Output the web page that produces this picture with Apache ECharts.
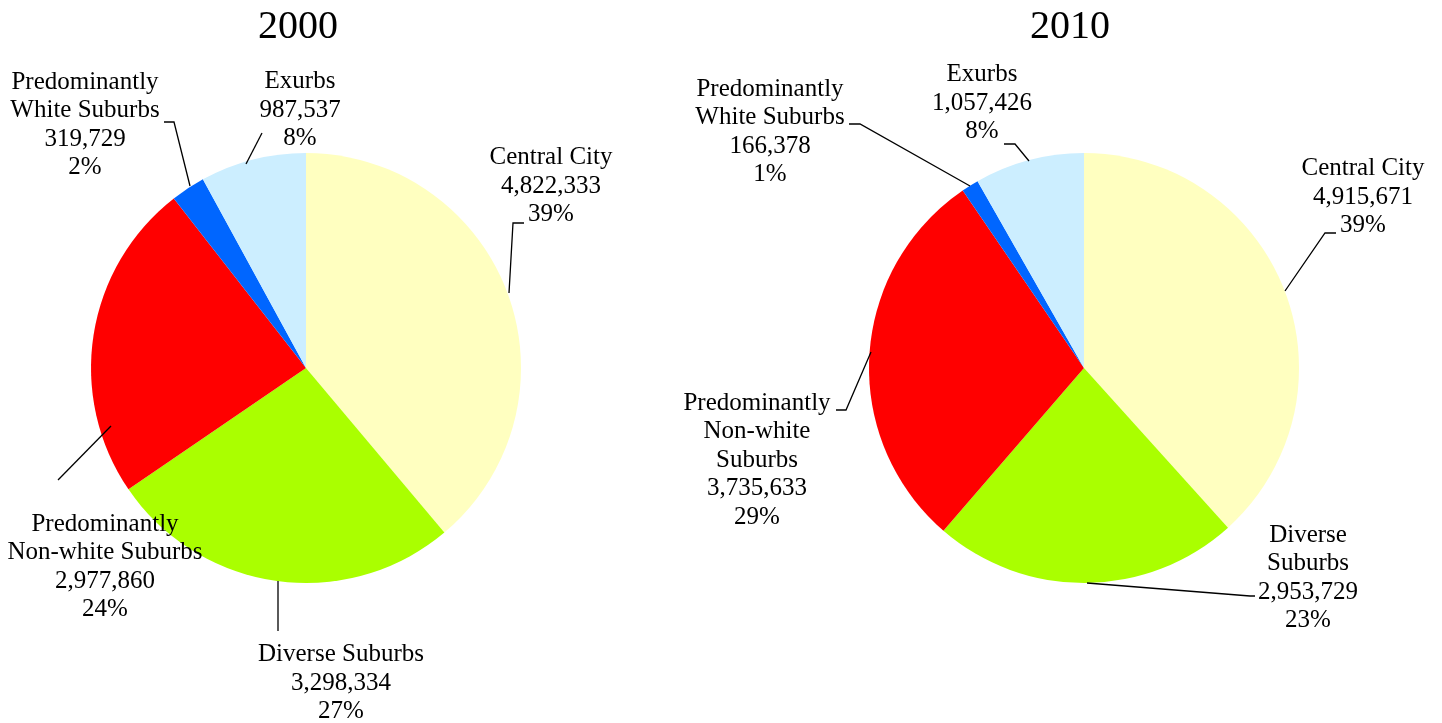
<!DOCTYPE html>
<html>
<head>
    <meta charset="utf-8">
    <title>Population by community type, 2000 and 2010</title>
    <script src="https://cdn.jsdelivr.net/npm/echarts@6.0.0/dist/echarts.min.js"></script>
    <style>
        html, body { margin: 0; padding: 0; background: #fff; }
    </style>
</head>
<body>
    <div id="chart" style="width: 1442px;height:723px;"></div>

    <script>
        // data
        const categories = ['Central City', 'Diverse Suburbs', 'Predominantly Non-white Suburbs', 'Predominantly White Suburbs', 'Exurbs']
        const values2000 = [4822333, 3298334, 2977860, 319729, 987537]
        const values2010 = [4915671, 2953729, 3735633, 166378, 1057426]
        const years = ['2000', '2010']

        // how each label wraps in each chart
        const names2000 = ['Central City', 'Diverse Suburbs', 'Predominantly\nNon-white Suburbs', 'Predominantly\nWhite Suburbs', 'Exurbs']
        const names2010 = ['Central City', 'Diverse\nSuburbs', 'Predominantly\nNon-white\nSuburbs', 'Predominantly\nWhite Suburbs', 'Exurbs']

        const colors = ['#ffffc0', '#aaff00', '#ff0000', '#0066ff', '#cceeff']

        // label placement (text centre) and leader lines
        const labelPos = [
            [[551, 186], [341, 683], [105, 567], [85, 125], [300, 110]],
            [[1363, 197], [1308, 578], [757, 460], [770, 132], [982, 103]]
        ]
        const linePts = [
            [
                [[509, 293], [513, 223], [524, 223]],
                [[278, 581], [278, 631], [278, 631]],
                [[111, 426], [58, 480], [58, 480]],
                [[190, 186], [174, 122], [164, 122]],
                [[246, 164], [262, 133], [262, 133]]
            ],
            [
                [[1285, 291], [1325, 233], [1336, 233]],
                [[1087, 583], [1250, 596], [1255, 596]],
                [[871, 352], [846, 410], [836, 410]],
                [[970, 186], [860, 124], [849, 124]],
                [[1029, 161], [1015, 144], [1004, 144]]
            ]
        ]

        const font = 'Liberation Serif, Times New Roman, serif'

        // slices only
        function pieSeries(values, names, center) {
            return {
                type: 'pie',
                z: 2,
                center: center,
                radius: 215,
                startAngle: 90,
                clockwise: true,
                silent: true,
                data: values.map((v, i) => ({
                    name: names[i],
                    value: v,
                    itemStyle: { color: colors[i] }
                })),
                label: { show: false },
                labelLine: { show: false },
                emphasis: { disabled: true }
            }
        }

        // same pie drawn see-through on top, carrying the labels and leader lines
        function labelSeries(idx, values, names, center) {
            return {
                type: 'pie',
                z: 3,
                center: center,
                radius: 215,
                startAngle: 90,
                clockwise: true,
                percentPrecision: 0,
                avoidLabelOverlap: false,
                silent: true,
                data: values.map((v, i) => ({
                    name: names[i],
                    value: v,
                    itemStyle: { color: 'rgba(0,0,0,0)' }
                })),
                label: {
                    show: true,
                    position: 'outside',
                    color: '#000',
                    fontFamily: font,
                    fontSize: 25,
                    lineHeight: 28.5,
                    align: 'center',
                    formatter: p => p.name + '\n' + p.value.toLocaleString('en-US') + '\n' + p.percent + '%'
                },
                labelLine: {
                    show: true,
                    showAbove: true,
                    length: 10,
                    length2: 10,
                    lineStyle: { color: '#000', width: 1.3 }
                },
                labelLayout: p => ({
                    x: labelPos[idx][p.dataIndex][0],
                    y: labelPos[idx][p.dataIndex][1],
                    align: 'center',
                    verticalAlign: 'middle',
                    labelLinePoints: linePts[idx][p.dataIndex]
                }),
                emphasis: { disabled: true }
            }
        }

        const chart = echarts.init(document.getElementById('chart'))
        chart.setOption({
            animation: false,
            title: [
                { text: years[0], left: 293, top: 2, textAlign: 'center',
                  textStyle: { fontFamily: font, fontSize: 40, fontWeight: 'normal', color: '#000' } },
                { text: years[1], left: 1065, top: 2, textAlign: 'center',
                  textStyle: { fontFamily: font, fontSize: 40, fontWeight: 'normal', color: '#000' } }
            ],
            series: [
                pieSeries(values2000, names2000, [306, 368]),
                pieSeries(values2010, names2010, [1084, 368]),
                labelSeries(0, values2000, names2000, [306, 368]),
                labelSeries(1, values2010, names2010, [1084, 368])
            ]
        })
    </script>
</body>
</html>
